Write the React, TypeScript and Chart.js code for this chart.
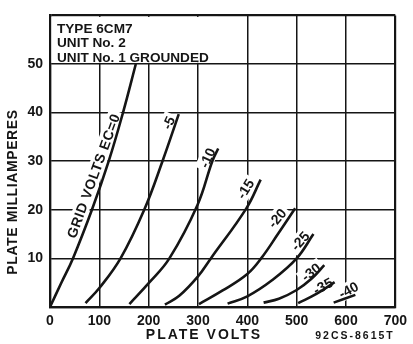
import React, { useEffect, useRef } from "react";
import { Chart, registerables } from "chart.js";

Chart.register(...registerables);

// ---- axis data ----
const X_MIN = 0;
const X_MAX = 700;
const X_STEP = 100;
const Y_MIN = 0;
const Y_MAX = 60;
const Y_STEP = 10;
const Y_TICK_LABELS = [10, 20, 30, 40, 50];

// ---- curve data (plate volts, plate milliamperes) ----
const ec0Volts = [0, 23, 46.5, 85, 119, 148, 174];
const ec0MA = [0, 5, 10, 20, 30, 40, 50];

const ec5Volts = [72, 100, 143, 191, 228, 261];
const ec5MA = [0.8, 3.9, 10, 20, 30, 39.7];

const ec10Volts = [161, 200, 242, 299, 329, 341];
const ec10MA = [0.6, 4.9, 10, 21, 30, 32.6];

const ec15Volts = [233, 262, 300, 326, 398, 427];
const ec15MA = [0.5, 2.3, 6.3, 10, 20.3, 26.2];

const ec20Volts = [302, 350, 400, 428, 462, 497];
const ec20MA = [0.6, 3.4, 6.8, 10, 15, 20.3];

const ec25Volts = [360, 400, 450, 500, 534];
const ec25MA = [0.7, 2.2, 5.5, 10, 15];

const ec30Volts = [433, 464, 500, 530, 556];
const ec30MA = [0.9, 1.7, 3.5, 5.8, 8.6];

const ec35Volts = [503, 540, 577];
const ec35MA = [0.8, 2.7, 5.1];

const ec40Volts = [575, 619];
const ec40MA = [0.9, 2.5];

const CURVES = [
  [ec0Volts, ec0MA],
  [ec5Volts, ec5MA],
  [ec10Volts, ec10MA],
  [ec15Volts, ec15MA],
  [ec20Volts, ec20MA],
  [ec25Volts, ec25MA],
  [ec30Volts, ec30MA],
  [ec35Volts, ec35MA],
  [ec40Volts, ec40MA],
];

// ---- curve labels (text, anchor in data units, angle in degrees) ----
const LABEL_TEXT = ["GRID VOLTS EC=0", "-5", "-10", "-15", "-20", "-25", "-30", "-35", "-40"];
const LABEL_VOLTS = [88, 240, 319, 396, 460, 507, 529, 553, 605];
const LABEL_MA = [27, 37.9, 30.7, 24.3, 18.3, 13.6, 7.2, 4.3, 3.5];
const LABEL_ANGLE = [-70, -65, -66, -58, -50, -48, -38, -28, -28];

const HEADER_LINES = ["TYPE 6CM7", "UNIT No. 2", "UNIT No. 1 GROUNDED"];
const HEADER_RIGHT_VOLTS = 340;
const Y_TITLE = "PLATE MILLIAMPERES";
const X_TITLE = "PLATE VOLTS";
const CODE_TEXT = "92CS-8615T";

const FONT = "'Liberation Sans', Arial, sans-serif";
const INK = "#151515";

const overlayPlugin = {
  id: "overlay",
  beforeDatasetsDraw(chart: any) {
    const { ctx, chartArea } = chart;
    const x = chart.scales.x;
    const y = chart.scales.y;
    ctx.save();
    // header box
    const bx0 = chartArea.left + 1.5;
    const by0 = chartArea.top + 1.5;
    const bx1 = x.getPixelForValue(HEADER_RIGHT_VOLTS);
    const by1 = y.getPixelForValue(50) - 1.2;
    ctx.fillStyle = "#ffffff";
    ctx.fillRect(bx0, by0, bx1 - bx0, by1 - by0);
    ctx.fillStyle = INK;
    ctx.font = `bold 13.6px ${FONT}`;
    ctx.textAlign = "left";
    ctx.textBaseline = "middle";
    HEADER_LINES.forEach((t, i) => {
      ctx.fillText(t, chartArea.left + 7, chartArea.top + 13.5 + i * 14.5);
    });
    // curve labels
    LABEL_TEXT.forEach((t, i) => {
      const px = x.getPixelForValue(LABEL_VOLTS[i]);
      const py = y.getPixelForValue(LABEL_MA[i]);
      ctx.save();
      ctx.translate(px, py);
      ctx.rotate((LABEL_ANGLE[i] * Math.PI) / 180);
      ctx.font = `bold 14px ${FONT}`;
      try { (ctx as any).letterSpacing = i === 0 ? "0.5px" : "0px"; } catch (e) {}
      const w = ctx.measureText(t).width;
      ctx.fillStyle = "#ffffff";
      ctx.fillRect(-w / 2 - 3, -8, w + 6, 16);
      ctx.fillStyle = INK;
      ctx.textAlign = "center";
      ctx.textBaseline = "middle";
      ctx.fillText(t, 0, 1);
      ctx.restore();
    });
    ctx.restore();
  },
  afterDraw(chart: any) {
    const { ctx } = chart;
    ctx.save();
    ctx.fillStyle = INK;
    ctx.textAlign = "center";
    ctx.textBaseline = "middle";
    // y title
    ctx.save();
    ctx.translate(13, 192);
    ctx.rotate(-Math.PI / 2);
    ctx.font = `bold 14px ${FONT}`;
    try { (ctx as any).letterSpacing = "0.6px"; } catch (e) {}
    ctx.fillText(Y_TITLE, 0, 0);
    ctx.restore();
    // x title
    ctx.save();
    ctx.font = `bold 14px ${FONT}`;
    try { (ctx as any).letterSpacing = "2px"; } catch (e) {}
    ctx.fillText(X_TITLE, 204, 335);
    ctx.restore();
    // code
    ctx.save();
    ctx.font = `bold 10.5px ${FONT}`;
    try { (ctx as any).letterSpacing = "2px"; } catch (e) {}
    ctx.fillText(CODE_TEXT, 355, 336);
    ctx.restore();
    ctx.restore();
  },
};

export default function App() {
  const canvasRef = useRef<HTMLCanvasElement | null>(null);

  useEffect(() => {
    const canvas = canvasRef.current;
    if (!canvas) return;
    const datasets = CURVES.map(([vs, ms]) => ({
      data: vs.map((v, i) => ({ x: v, y: ms[i] })),
      showLine: true,
      borderColor: INK,
      borderWidth: 2.6,
      pointRadius: 0,
      fill: false,
      tension: 0.4,
    }));

    const edgeWidth = (max: number) => (c: any) =>
      c.tick && (c.tick.value === 0 || c.tick.value === max) ? 2.2 : 1.5;

    const chart = new Chart(canvas, {
      type: "scatter",
      data: { datasets },
      plugins: [overlayPlugin],
      options: {
        animation: false,
        responsive: false,
        devicePixelRatio: 1,
        layout: { padding: { left: 0, right: 16, top: 10, bottom: 0 } },
        plugins: {
          legend: { display: false },
          tooltip: { enabled: false },
          title: { display: false },
        },
        scales: {
          x: {
            type: "linear",
            min: X_MIN,
            max: X_MAX,
            afterFit: (s: any) => {
              s.height = 37;
            },
            ticks: {
              stepSize: X_STEP,
              padding: 6,
              color: INK,
              font: { family: FONT, size: 14, weight: "bold" },
              maxRotation: 0,
            },
            grid: {
              color: INK,
              lineWidth: edgeWidth(X_MAX),
              drawTicks: false,
            },
            border: { display: true, color: INK, width: 2.2 },
          },
          y: {
            type: "linear",
            min: Y_MIN,
            max: Y_MAX,
            afterFit: (s: any) => {
              s.width = 50;
            },
            ticks: {
              stepSize: Y_STEP,
              padding: 7,
              color: INK,
              font: { family: FONT, size: 14, weight: "bold" },
              callback: (v: any) => (Y_TICK_LABELS.includes(Number(v)) ? String(v) : ""),
            },
            grid: {
              color: INK,
              lineWidth: edgeWidth(Y_MAX),
              drawTicks: false,
            },
            border: { display: true, color: INK, width: 2.2 },
          },
        },
      },
    });
    return () => chart.destroy();
  }, []);

  return (
    <div style={{ position: "absolute", left: 0, top: 0, width: 413, height: 344, background: "#fff" }}>
      <canvas ref={canvasRef} width={413} height={344} style={{ display: "block" }} />
    </div>
  );
}
